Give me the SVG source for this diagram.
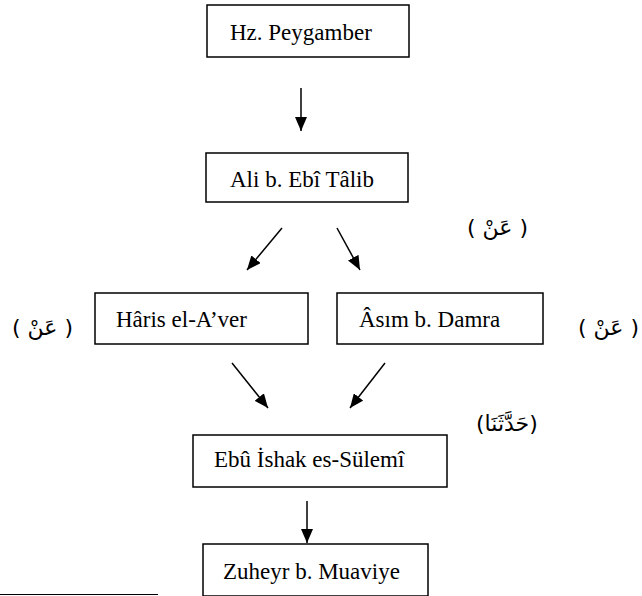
<svg xmlns="http://www.w3.org/2000/svg" width="642" height="596" viewBox="0 0 642 596">
<style>
.box{fill:#fff;stroke:#000;stroke-width:1.5}
.t{font-size:23px;fill:#000}
.ar{font-size:22px;fill:#000}
.con line{stroke:#000;stroke-width:1.5;marker-end:url(#ah)}
</style>
<defs>
<marker id="ah" markerUnits="userSpaceOnUse" viewBox="0 0 14 12" refX="14" refY="6" markerWidth="14" markerHeight="12" orient="auto">
<path d="M0,0 L14,6 L0,12 Z" fill="#000"/>
</marker>
</defs>
<rect width="642" height="596" fill="#fff"/>
<g font-family="'Liberation Serif', 'DejaVu Serif', serif">
<g id="n1"><rect class="box" x="207" y="5" width="202" height="52"/><text class="t" x="230" y="40">Hz. Peygamber</text></g>
<g id="n2"><rect class="box" x="206" y="153" width="202" height="49"/><text class="t" x="230" y="187">Ali b. Ebî Tâlib</text></g>
<g id="n3"><rect class="box" x="95" y="293" width="213" height="51"/><text class="t" x="116" y="327">Hâris el-A’ver</text></g>
<g id="n4"><rect class="box" x="337" y="293" width="206" height="51"/><text class="t" x="359" y="327">Âsım b. Damra</text></g>
<g id="n5"><rect class="box" x="193" y="435" width="254" height="52"/><text class="t" x="214" y="467">Ebû İshak es-Sülemî</text></g>
<g id="n6"><rect class="box" x="203" y="544" width="225" height="52"/><text class="t" x="223" y="579">Zuheyr b. Muaviye</text></g>
</g>
<g id="labels" font-family="'DejaVu Sans', sans-serif">
<text class="ar" x="467" y="235">( عَنْ )</text>
<text class="ar" x="12" y="335">( عَنْ )</text>
<text class="ar" x="578" y="335">( عَنْ )</text>
<text class="ar" x="476" y="431">(حَدَّثَنَا)</text>
</g>
<g class="con">
<line x1="301" y1="88" x2="301" y2="131"/>
<line x1="282" y1="228" x2="247" y2="270"/>
<line x1="337" y1="228" x2="360" y2="270"/>
<line x1="232" y1="363" x2="268" y2="408"/>
<line x1="385" y1="363" x2="350" y2="408"/>
<line x1="307" y1="501" x2="307" y2="543"/>
</g>
<line x1="0" y1="594.5" x2="158" y2="594.5" stroke="#000" stroke-width="1"/>
</svg>
